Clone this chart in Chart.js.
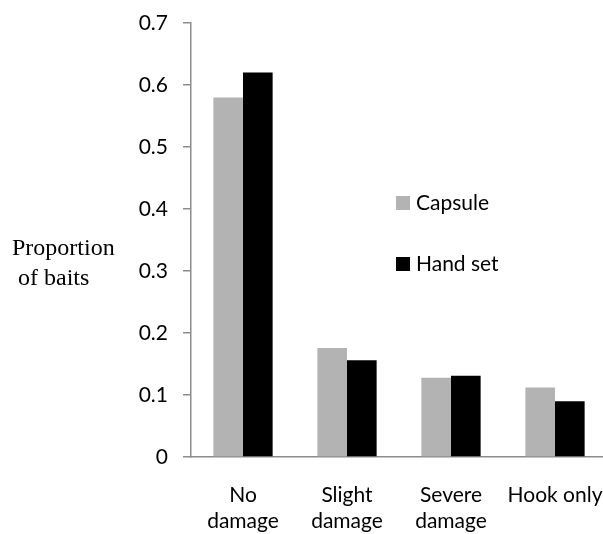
<!DOCTYPE html>
<html>
<head>
<meta charset="utf-8">
<script src="https://cdn.jsdelivr.net/npm/chart.js@4/dist/chart.umd.min.js"></script>
<style>
  html, body { margin: 0; padding: 0; background: #fff; overflow: hidden; }
  #wrap { width: 610px; height: 534px; }
</style>
</head>
<body>
<div id="wrap"><canvas id="bait-chart"></canvas></div>
<script>
// chart data
var categories = [["No", "damage"], ["Slight", "damage"], ["Severe", "damage"], "Hook only"];
var capsule = [0.58, 0.176, 0.128, 0.112];
var handSet = [0.62, 0.156, 0.131, 0.09];
var seriesNames = ["Capsule", "Hand set"];
var yTitle = ["Proportion", " of baits"];

var tickFont = { family: "Lato, 'Open Sans', sans-serif", size: 21, lineHeight: 1.24 };

// legend + axis title drawn by hand, like the original figure
var extras = {
	id: "extras",
	afterDraw: function(chart) {
		var c = chart.ctx;
		var area = chart.chartArea;
		c.save();
		c.font = "24px 'Liberation Serif', serif";
		c.fillStyle = "#000";
		c.textBaseline = "middle";
		c.textAlign = "left";
		c.fillText(yTitle[0], 12, 249);
		c.fillText(yTitle[1], 12, 279);

		c.font = "21px Lato, 'Open Sans', sans-serif";
		chart.data.datasets.forEach(function(ds, i) {
			var y = area.top + 180 + i * 61;
			c.fillStyle = ds.backgroundColor;
			c.fillRect(area.left + 205, y - 7, 14, 14);
			c.fillStyle = "#000";
			c.fillText(ds.label, area.left + 225, y);
		});
		c.restore();
	}
};

var chart = new Chart(document.getElementById("bait-chart"), {
	type: "bar",
	data: {
		labels: categories,
		datasets: [
			{ label: seriesNames[0], data: capsule, backgroundColor: "#b3b3b3" },
			{ label: seriesNames[1], data: handSet, backgroundColor: "#000000" }
		]
	},
	options: {
		responsive: true,
		maintainAspectRatio: false,
		animation: false,
		layout: { padding: { top: 23, right: 3, left: 0, bottom: 0 } },
		categoryPercentage: 0.57,
		barPercentage: 1,
		plugins: {
			legend: { display: false },
			tooltip: { enabled: false }
		},
		scales: {
			x: {
				grid: { display: false, drawTicks: false },
				border: { color: "#8c8c8c", width: 1.5 },
				ticks: { color: "#000", font: tickFont, padding: 25, maxRotation: 0, autoSkip: false },
				afterFit: function(s) {
					s.height = 77;
					s.paddingLeft = 0;
					s.paddingRight = 0;
				}
			},
			y: {
				min: 0,
				max: 0.7,
				grid: { drawOnChartArea: false, drawTicks: true, tickLength: 8, color: "#8c8c8c", lineWidth: 1.5 },
				border: { color: "#8c8c8c", width: 1.5 },
				ticks: { stepSize: 0.1, color: "#000", font: tickFont, padding: 15,
					callback: function(v) { return Math.round(v * 10) / 10; } },
				afterFit: function(s) {
					s.width = 191;
					s.paddingTop = 0;
					s.paddingBottom = 0;
				}
			}
		}
	},
	plugins: [extras]
});
</script>
</body>
</html>
